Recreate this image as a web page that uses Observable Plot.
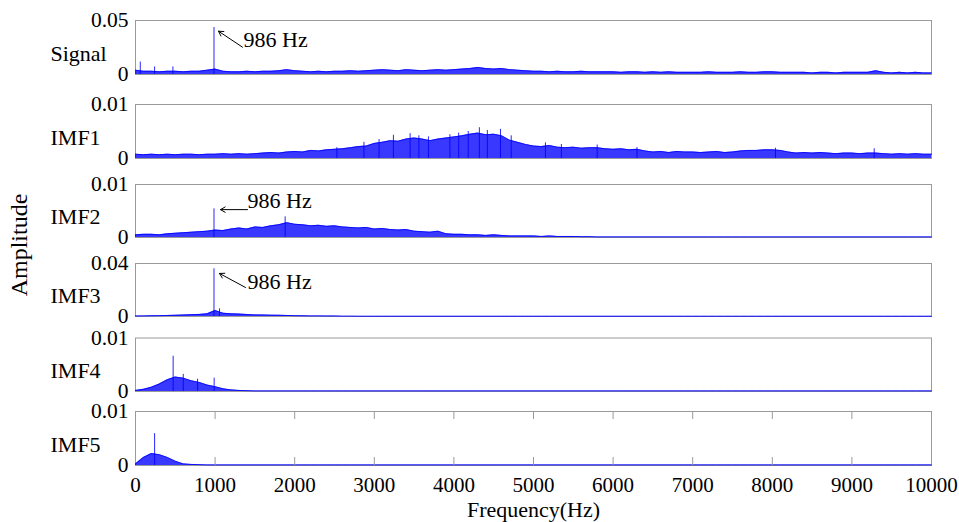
<!DOCTYPE html>
<html><head><meta charset="utf-8">
<script src="https://cdn.jsdelivr.net/npm/d3@7"></script>
<script src="https://cdn.jsdelivr.net/npm/@observablehq/plot@0.6"></script>
<style>
body{margin:0;background:#fff;}
#chart{position:relative;width:959px;height:522px;font-family:"Liberation Serif","Times New Roman",serif;color:#000;}
#chart svg{position:absolute;left:0;top:0;}
#ylab{position:absolute;left:19px;top:245px;transform:translate(-50%,-50%) rotate(-90deg);font-size:24px;white-space:nowrap;}
</style></head><body>
<div id="chart"><div id="ylab">Amplitude</div></div>
<script>
// ---- data ----
const panelNames = ["Signal", "IMF1", "IMF2", "IMF3", "IMF4", "IMF5"];
const yMaxValues = [0.05, 0.01, 0.01, 0.04, 0.01, 0.01];
const xTickValues = [0, 1000, 2000, 3000, 4000, 5000, 6000, 7000, 8000, 9000, 10000];
// spectrum envelope sampled every 100 Hz from 0 to 10000 Hz
const frequencyHz = d3.range(0, 10001, 100);

const signalAmp = [
 0.004,0.003,0.003,0.0025,0.003,0.003,0.0025,0.003,0.003,0.004,
 0.005,0.003,0.0025,0.0025,0.003,0.0025,0.003,0.003,0.0035,0.0045,
 0.0035,0.003,0.0025,0.003,0.0025,0.003,0.003,0.0035,0.003,0.0035,
 0.004,0.0045,0.004,0.0035,0.0045,0.004,0.0035,0.004,0.0045,0.004,
 0.0045,0.005,0.0055,0.0065,0.0055,0.005,0.0055,0.0045,0.004,0.0035,
 0.003,0.003,0.0025,0.003,0.0025,0.0025,0.003,0.0025,0.0025,0.0025,
 0.0025,0.002,0.0025,0.0025,0.002,0.0025,0.002,0.0025,0.002,0.002,
 0.002,0.002,0.0025,0.002,0.002,0.002,0.0025,0.002,0.002,0.0025,
 0.0025,0.002,0.002,0.002,0.002,0.0015,0.002,0.002,0.0015,0.002,
 0.002,0.002,0.002,0.0035,0.002,0.0015,0.002,0.0015,0.002,0.0015,0.0015];
const imf1Amp = [
 0.0008,0.0007,0.0008,0.0007,0.0008,0.0007,0.0008,0.0008,0.0007,0.0008,
 0.0008,0.0009,0.0008,0.0009,0.0008,0.0009,0.001,0.0011,0.001,0.0012,
 0.0013,0.0012,0.0015,0.0014,0.0016,0.0017,0.0018,0.002,0.0022,0.0023,
 0.0028,0.003,0.0033,0.0032,0.0036,0.0038,0.0036,0.0033,0.0036,0.0038,
 0.004,0.0042,0.0045,0.0047,0.0044,0.0045,0.0042,0.0034,0.003,0.0026,
 0.0023,0.0022,0.0024,0.0021,0.002,0.0021,0.0019,0.002,0.002,0.0018,
 0.0017,0.0018,0.0016,0.0017,0.0014,0.0012,0.0013,0.0011,0.0013,0.0012,
 0.0012,0.0011,0.0012,0.0013,0.0011,0.0012,0.0014,0.0015,0.0015,0.0016,
 0.0016,0.0015,0.0012,0.001,0.0011,0.001,0.0011,0.001,0.0009,0.001,
 0.001,0.0009,0.001,0.001,0.0009,0.0008,0.0009,0.0008,0.0009,0.0008,0.0008];
const imf2Amp = [
 0.0005,0.0006,0.0006,0.0005,0.0007,0.0008,0.0009,0.001,0.0011,0.0012,
 0.0014,0.0013,0.0016,0.0018,0.0016,0.002,0.0019,0.0022,0.0024,0.0028,
 0.0025,0.0024,0.0022,0.0023,0.0021,0.0022,0.002,0.0019,0.0018,0.0019,
 0.0016,0.0017,0.0015,0.0014,0.0015,0.0012,0.0011,0.001,0.0012,0.0007,
 0.0006,0.0006,0.0005,0.0005,0.0004,0.0005,0.0004,0.0003,0.0003,0.0003,
 0.0003,0.0002,0.0003,0.0002,0.0002,0.0002,0.00015,0.00015,0.0001,0.0001,
 0.0001,0.0001,0.0001,0.0001,0.0001,0.0001,0.0001,0.0001,0.0001,0.0001,
 0.0001,0.0001,0.0001,0.0001,0.0001,0.0001,0.0001,0.0001,0.0001,0.0001,
 0.0001,0.0001,0.0001,0.0001,0.0001,0.0001,0.0001,0.0001,0.0001,0.0001,
 0.0001,0.0001,0.0001,0.0001,0.0001,0.0001,0.0001,0.0001,0.0001,0.0001,0.0001];
const imf3Amp = [
 0.0003,0.0004,0.0005,0.0006,0.0008,0.0009,0.0011,0.0014,0.0016,0.002,
 0.0045,0.0025,0.002,0.0018,0.0015,0.0012,0.0011,0.001,0.0009,0.0008,
 0.0006,0.0005,0.0004,0.0004,0.0003,0.0003,0.0002,0.0002,0.0001,0.0001,
 0.0001,0.0001,0.0001,0.0001,0.0001,0.0001,0.0001,0.0001,0.0001,0.0001,
 0.0001,0.0001,0.0001,0.0001,0.0001,0.0001,0.0001,0.0001,0.0001,0.0001,
 0.0001,0.0001,0.0001,0.0001,0.0001,0.0001,0.0001,0.0001,0.0001,0.0001,
 0.0001,0.0001,0.0001,0.0001,0.0001,0.0001,0.0001,0.0001,0.0001,0.0001,
 0.0001,0.0001,0.0001,0.0001,0.0001,0.0001,0.0001,0.0001,0.0001,0.0001,
 0.0001,0.0001,0.0001,0.0001,0.0001,0.0001,0.0001,0.0001,0.0001,0.0001,
 0.0001,0.0001,0.0001,0.0001,0.0001,0.0001,0.0001,0.0001,0.0001,0.0001,0.0001];
const imf4Amp = [
 0.0002,0.0004,0.0008,0.0014,0.0022,0.0027,0.0025,0.002,0.0017,0.0012,
 0.0009,0.0005,0.0003,0.0002,0.00015,0.0001,0.0001,0.0001,0.0001,0.0001,
 0.0001,0.0001,0.0001,0.0001,0.0001,0.0001,0.0001,0.0001,0.0001,0.0001,
 0.0001,0.0001,0.0001,0.0001,0.0001,0.0001,0.0001,0.0001,0.0001,0.0001,
 0.0001,0.0001,0.0001,0.0001,0.0001,0.0001,0.0001,0.0001,0.0001,0.0001,
 0.0001,0.0001,0.0001,0.0001,0.0001,0.0001,0.0001,0.0001,0.0001,0.0001,
 0.0001,0.0001,0.0001,0.0001,0.0001,0.0001,0.0001,0.0001,0.0001,0.0001,
 0.0001,0.0001,0.0001,0.0001,0.0001,0.0001,0.0001,0.0001,0.0001,0.0001,
 0.0001,0.0001,0.0001,0.0001,0.0001,0.0001,0.0001,0.0001,0.0001,0.0001,
 0.0001,0.0001,0.0001,0.0001,0.0001,0.0001,0.0001,0.0001,0.0001,0.0001,0.0001];
const imf5Amp = [
 0.0003,0.0015,0.0022,0.002,0.0015,0.0008,0.0003,0.0002,0.00015,0.0001,
 0.0001,0.0001,0.0001,0.0001,0.0001,0.0001,0.0001,0.0001,0.0001,0.0001,
 0.0001,0.0001,0.0001,0.0001,0.0001,0.0001,0.0001,0.0001,0.0001,0.0001,
 0.0001,0.0001,0.0001,0.0001,0.0001,0.0001,0.0001,0.0001,0.0001,0.0001,
 0.0001,0.0001,0.0001,0.0001,0.0001,0.0001,0.0001,0.0001,0.0001,0.0001,
 0.0001,0.0001,0.0001,0.0001,0.0001,0.0001,0.0001,0.0001,0.0001,0.0001,
 0.0001,0.0001,0.0001,0.0001,0.0001,0.0001,0.0001,0.0001,0.0001,0.0001,
 0.0001,0.0001,0.0001,0.0001,0.0001,0.0001,0.0001,0.0001,0.0001,0.0001,
 0.0001,0.0001,0.0001,0.0001,0.0001,0.0001,0.0001,0.0001,0.0001,0.0001,
 0.0001,0.0001,0.0001,0.0001,0.0001,0.0001,0.0001,0.0001,0.0001,0.0001,0.0001];

// narrow spectral lines
const signalSpikeHz = [60, 240, 470, 986];
const signalSpikeAmp = [0.0115, 0.007, 0.007, 0.0435];
const imf1SpikeHz = [2530, 2870, 3060, 3240, 3450, 3560, 3680, 3950, 4060, 4180, 4320, 4420, 4585, 4720, 5150, 5350, 5800, 6300, 8040, 9280];
const imf1SpikeAmp = [0.002, 0.003, 0.0035, 0.0043, 0.0046, 0.0042, 0.004, 0.0044, 0.0047, 0.005, 0.0057, 0.0052, 0.0054, 0.0042, 0.0029, 0.0026, 0.0025, 0.002, 0.0019, 0.0018];
const imf2SpikeHz = [986, 1880];
const imf2SpikeAmp = [0.0054, 0.0039];
const imf3SpikeHz = [986, 1055];
const imf3SpikeAmp = [0.036, 0.0058];
const imf4SpikeHz = [473, 600, 780, 988];
const imf4SpikeAmp = [0.0066, 0.0032, 0.0023, 0.0025];
const imf5SpikeHz = [240];
const imf5SpikeAmp = [0.0059];

const peakLabel = "986 Hz";

// ---- layout ----
const W = 959, H = 522, ML = 135, MR = 28;
const frameTops = [20, 104, 184, 263, 337.5, 411];
const frameBottoms = [74, 158, 237, 316, 391, 465];
const ampArrays = [signalAmp, imf1Amp, imf2Amp, imf3Amp, imf4Amp, imf5Amp];
const spikeHzArrays = [signalSpikeHz, imf1SpikeHz, imf2SpikeHz, imf3SpikeHz, imf4SpikeHz, imf5SpikeHz];
const spikeAmpArrays = [signalSpikeAmp, imf1SpikeAmp, imf2SpikeAmp, imf3SpikeAmp, imf4SpikeAmp, imf5SpikeAmp];

// annotation geometry (data units) for panels with a 986 Hz arrow
const annotations = {
  0: {tx: 1357, ty: 0.0318, x1: 1344, y1: 0.0253, x2: 1043, y2: 0.0401},
  2: {tx: 1407, ty: 0.00696, x1: 1407, y1: 0.00526, x2: 1068, y2: 0.00526},
  3: {tx: 1407, ty: 0.0264, x1: 1382, y1: 0.0219, x2: 1055, y2: 0.0325}
};

const BLUE = "#0000ff", GRAY = "#9a9a9a";
const chart = document.getElementById("chart");

panelNames.forEach((name, k) => {
  const data = frequencyHz.map((f, i) => ({f, a: ampArrays[k][i]}));
  const spikes = spikeHzArrays[k].map((f, i) => ({f, a: spikeAmpArrays[k][i]}));
  const top = frameTops[k], bottom = frameBottoms[k];
  const h = bottom - top;
  const isLast = k === panelNames.length - 1;
  const marks = [
    Plot.frame({stroke: GRAY, strokeWidth: 1}),
    Plot.areaY(data, {x: "f", y: "a", fill: BLUE, fillOpacity: 0.78}),
    Plot.lineY(data, {x: "f", y: "a", stroke: BLUE, strokeWidth: 0.8}),
    Plot.ruleX(spikes, {x: "f", y1: 0, y2: "a", stroke: BLUE, strokeWidth: 1, strokeOpacity: 0.85}),
    Plot.axisY({ticks: [0, yMaxValues[k]], tickSize: 0, tickPadding: 7, tickFormat: d => String(d), fontSize: 21.5, label: null}),
    Plot.text([name], {text: d => d, frameAnchor: "left", textAnchor: "start", dx: -85, dy: 6, fontSize: 22})
  ];
  const an = annotations[k];
  if (an) {
    marks.push(
      Plot.arrow([an], {x1: "x1", y1: "y1", x2: "x2", y2: "y2", stroke: "black", strokeWidth: 1, headLength: 8}),
      Plot.text([an], {x: "tx", y: "ty", text: () => peakLabel, textAnchor: "start", fontSize: 22})
    );
  }
  if (isLast) {
    const inner = xTickValues.slice(1, -1);
    marks.push(
      Plot.ruleX(inner, {x: d => d, insetTop: h - 8, stroke: GRAY}),
      Plot.ruleX(inner, {x: d => d, insetBottom: h - 8, stroke: GRAY}),
      Plot.axisX({ticks: xTickValues, tickSize: 0, tickPadding: 12, tickFormat: d => String(d), fontSize: 21, label: null}),
      Plot.text(["Frequency(Hz)"], {text: d => d, frameAnchor: "bottom", lineAnchor: "middle", dy: 44, fontSize: 22})
    );
  }
  const svg = Plot.plot({
    width: W, height: H,
    marginLeft: ML, marginRight: MR, marginTop: top, marginBottom: H - bottom,
    x: {domain: [0, 10000], axis: isLast ? undefined : null},
    y: {domain: [0, yMaxValues[k]]},
    style: {background: "transparent", fontFamily: "Liberation Serif, Times New Roman, serif", fontSize: "22px", color: "black", overflow: "visible"},
    marks
  });
  chart.appendChild(svg);
});
</script>
</body></html>
